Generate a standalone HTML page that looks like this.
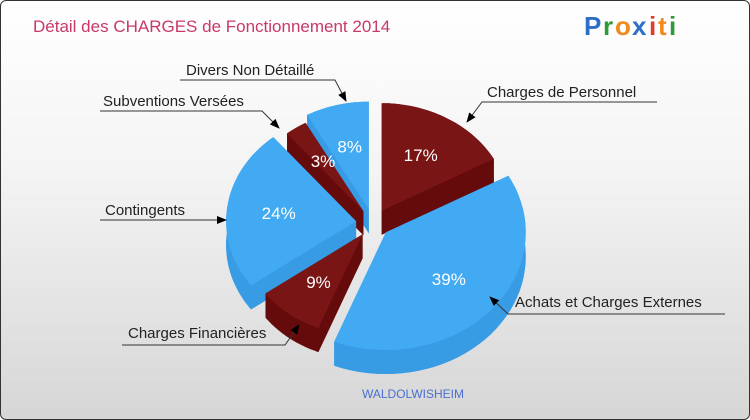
<!DOCTYPE html>
<html><head><meta charset="utf-8"><style>
html,body{margin:0;padding:0}
body{width:750px;height:420px;overflow:hidden;font-family:"Liberation Sans",sans-serif}
#frame{position:absolute;left:0;top:0;width:748px;height:418px;border:1px solid #333;border-radius:6px;background:linear-gradient(#ffffff 0%,#f4f4f4 40%,#d6d6d6 100%);overflow:hidden}
</style></head><body>
<div id="frame">
<svg id="chart" width="750" height="420" style="position:absolute;left:0;top:0">
<text x="32" y="31" font-size="17" fill="#c8386a">Détail des CHARGES de Fonctionnement 2014</text>
<g font-size="26" font-weight="bold" font-family="'Liberation Sans',sans-serif">
<text x="583" y="34" fill="#2d6fc8">P</text><text x="602" y="34" fill="#2f9a3a">r</text><text x="614" y="34" fill="#f08a1c">o</text><text x="631" y="34" fill="#2d6fc8">x</text><text x="648" y="34" fill="#e23b2e">i</text><text x="657" y="34" fill="#f08a1c">t</text><text x="668" y="34" fill="#2f9a3a">i</text>
</g>
<text x="412" y="397" font-size="12" fill="#4a6fd0" text-anchor="middle">WALDOLWISHEIM</text>
<g id="slices"></g>
</svg>
</div>
<script>
const categories=["Charges de Personnel","Achats et Charges Externes","Charges Financières","Contingents","Subventions Versées","Divers Non Détaillé"];
const values=[17,39,9,24,3,8];
const valueLabels=["17%","39%","9%","24%","3%","8%"];
const radii=[128,140,120,130,120,128];
const colorsTop=["#7a1515","#42aaf2","#7a1515","#42aaf2","#7a1515","#42aaf2"];
const colorsSide=["#650b0b","#389ce4","#650b0b","#389ce4","#650b0b","#389ce4"];
const cx=372,cy=222,depth=24,explode=17,yScale=0.84;
const NS="http://www.w3.org/2000/svg";
const g=document.getElementById('slices');
const total=values.reduce((a,b)=>a+b,0);
function poly(pts,fill,name){
  const p=document.createElementNS(NS,'polygon');
  p.setAttribute('points',pts.map(q=>q[0].toFixed(1)+','+q[1].toFixed(1)).join(' '));
  p.setAttribute('fill',fill);
  
  
  g.appendChild(p);
}
let a0=-Math.PI/2;
const sl=[];
values.forEach((v,i)=>{const a1=a0+v/total*2*Math.PI;sl.push({i,a0,a1,mid:(a0+a1)/2});a0=a1;});
const order=sl.slice().sort((a,b)=>Math.sin(a.mid)-Math.sin(b.mid));
order.forEach(s=>{
  const i=s.i,r=radii[i];
  const ox=cx+explode*Math.cos(s.mid),oy=cy+explode*yScale*Math.sin(s.mid);
  const arc=[];const n=40;
  for(let k=0;k<=n;k++){const a=s.a0+(s.a1-s.a0)*k/n;arc.push([ox+r*Math.cos(a),oy+r*yScale*Math.sin(a)]);}
  const down=arc.map(p=>[p[0],p[1]+depth]);
  poly([[ox,oy+depth]].concat(down),colorsSide[i],'slice-bottom');
  poly([[ox,oy],arc[0],down[0],[ox,oy+depth]],colorsSide[i],'slice-side');
  poly([[ox,oy],arc[n],down[n],[ox,oy+depth]],colorsSide[i],'slice-side');
  poly(arc.concat(down.slice().reverse()),colorsSide[i],'slice-rim');
  poly([[ox,oy]].concat(arc),colorsTop[i],'slice-'+categories[i].toLowerCase().replace(/[^a-z]+/g,'-'));
  const t=document.createElementNS(NS,'text');
  const lr=r*0.6;
  t.setAttribute('x',(ox+lr*Math.cos(s.mid)).toFixed(1));
  t.setAttribute('y',(oy+lr*yScale*Math.sin(s.mid)+6).toFixed(1));
  t.setAttribute('fill','#fff');t.setAttribute('font-size','17');t.setAttribute('text-anchor','middle');
  t.textContent=valueLabels[i];
  
  
  g.appendChild(t);
});
</script>
<svg width="750" height="420" style="position:absolute;left:0;top:0">
<defs><marker id="ar" markerWidth="10" markerHeight="8" refX="9" refY="4" orient="auto"><path d="M0,0 L10,4 L0,8 z" fill="#000"/></marker></defs>
<g font-size="15" fill="#222" stroke="none">
<text x="186" y="75">Divers Non Détaillé</text>
<text x="103" y="106">Subventions Versées</text>
<text x="487" y="97">Charges de Personnel</text>
<text x="105" y="215">Contingents</text>
<text x="515" y="307">Achats et Charges Externes</text>
<text x="128" y="338">Charges Financières</text>
</g>
<g stroke="#333" stroke-width="1" fill="none">
<polyline points="180,80 335,80 346,101" marker-end="url(#ar)"/>
<polyline points="100,111 262,111 279,128" marker-end="url(#ar)"/>
<polyline points="657,102 482,102 467,122" marker-end="url(#ar)"/>
<polyline points="100,220 226,220" marker-end="url(#ar)"/>
<polyline points="725,314 508,314 490,297" marker-end="url(#ar)"/>
<polyline points="122,345 285,345 299,325" marker-end="url(#ar)"/>
</g>
</svg>
</body></html>
